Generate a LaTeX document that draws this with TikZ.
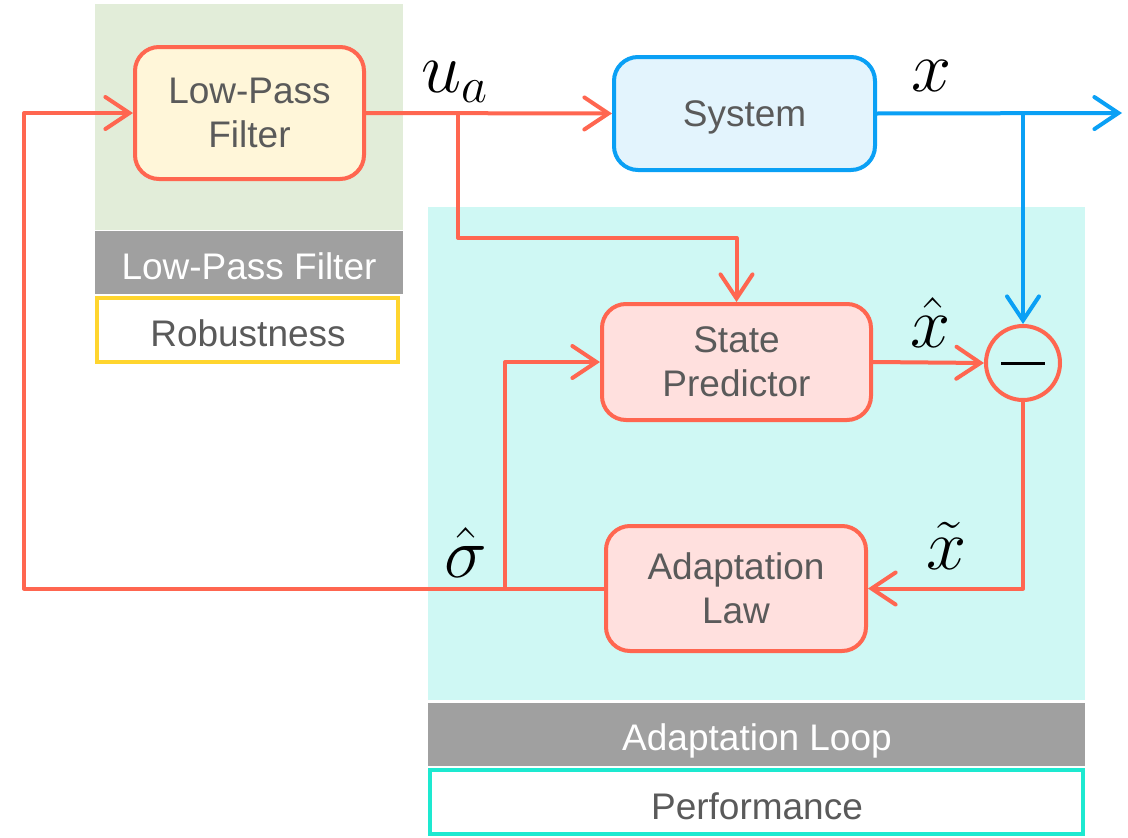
\RequirePackage{fix-cm}
\documentclass[tikz,border=0pt]{standalone}
\usepackage{fontspec}
\setmainfont{Liberation Sans}
\usetikzlibrary{arrows.meta}

\definecolor{lineRed}{HTML}{FF6650}
\definecolor{lineBlue}{HTML}{0AA0F5}
\definecolor{textGray}{HTML}{5A5A5A}
\definecolor{bandGray}{HTML}{A0A0A0}
\definecolor{lpfBack}{HTML}{E2EDD9}
\definecolor{loopBack}{HTML}{CFF8F4}
\definecolor{lpfFill}{HTML}{FFF6D9}
\definecolor{sysFill}{HTML}{E3F4FD}
\definecolor{blockFill}{HTML}{FFE0DE}
\definecolor{robustLine}{HTML}{FFD52E}
\definecolor{perfLine}{HTML}{1DE9D0}

\begin{document}
\begin{tikzpicture}[x=1pt,y=-1pt,
    block/.style={draw=lineRed, line width=4pt, rounded corners=24pt, fill=blockFill,
      align=center, text=textGray, inner sep=0pt, font=\fontsize{37}{44}\selectfont},
    label/.style={text=textGray, font=\fontsize{37}{44}\selectfont},
    band/.style={text=white, font=\fontsize{37}{44}\selectfont},
    sym/.style={text=black, font=\fontsize{72}{80}\selectfont},
    sig/.style={lineRed, line width=4pt, line cap=round, line join=round},
    tip/.tip={Straight Barb[length=24pt, width=32pt, line cap=round]}]
  \useasboundingbox (0,0) rectangle (1128,838);

  % shaded areas and their captions
  \fill[lpfBack] (95,4) rectangle (403,230);
  \fill[bandGray] (95,231) rectangle (403,294);
  \draw[robustLine, line width=4pt, fill=white] (97,298) rectangle (398,362);
  \fill[loopBack] (428,207) rectangle (1085,700);
  \fill[bandGray] (428,703) rectangle (1085,766);
  \draw[perfLine, line width=4pt, fill=white] (430,770) rectangle (1083,834);
  \node[band] (lpfcap) at (249,266) {Low-Pass Filter};
  \node[label] (robust) at (248,333) {Robustness};
  \node[band] (loopcap) at (757,741) {Adaptation Loop};
  \node[label] (perf) at (757,806) {Performance};

  % blocks
  \node[block, fill=lpfFill, minimum width=229pt, minimum height=132pt] (lpf) at (249.5,113) {Low-Pass\\Filter};
  \node[block, draw=lineBlue, fill=sysFill, text depth=0pt, minimum width=261pt, minimum height=113pt] (sys) at (744.5,113.5) {System};
  \node[block, minimum width=269pt, minimum height=116pt] (sp) at (736.5,362) {State\\Predictor};
  \node[block, minimum width=260pt, minimum height=125pt] (adapt) at (736,588.5) {Adaptation\\Law};
  \node[circle, draw=lineRed, line width=4pt, minimum size=74pt, inner sep=0pt] (diff) at (1023,363) {};
  \draw[black, line width=3pt] ([xshift=-22pt]diff.center) -- ([xshift=22pt]diff.center);

  % branch points
  \coordinate (uaJ) at (458,113);
  \coordinate (uaD) at (458,238);
  \coordinate (sigJ) at (505,588.5);
  \coordinate (fbL) at (24,588.5);
  \coordinate (xJ) at (1023,113);
  \coordinate (xOut) at (1122,113);

  % signal lines
  \begin{scope}[sig]
    \draw[-tip] (lpf.east) -- (sys.west);
    \draw[-tip] (uaJ) -- (uaD) -| (sp.north);
    \draw[-tip] (sp.east) -- (diff.west);
    \draw[-tip] (diff.south) |- (adapt.east);
    \draw[-tip] (adapt.west) -- (fbL) |- (lpf.west);
    \draw[-tip] (sigJ) |- (sp.west);
    \draw[lineBlue, -tip] (sys.east) -- (xOut);
    \draw[lineBlue, -tip] (xJ) -- (diff.north);
  \end{scope}

  % signal names
  \node[sym] (ua) at (455,82) {$u_a$};
  \node[sym] (x) at (932,76) {$x$};
  \node[sym] (xhat) at (931,322) {$\hat{x}$};
  \node[sym] (xtil) at (947,546) {$\tilde{x}$};
  \node[sym] (sighat) at (466,552) {$\hat{\sigma}$};
\end{tikzpicture}
\end{document}
